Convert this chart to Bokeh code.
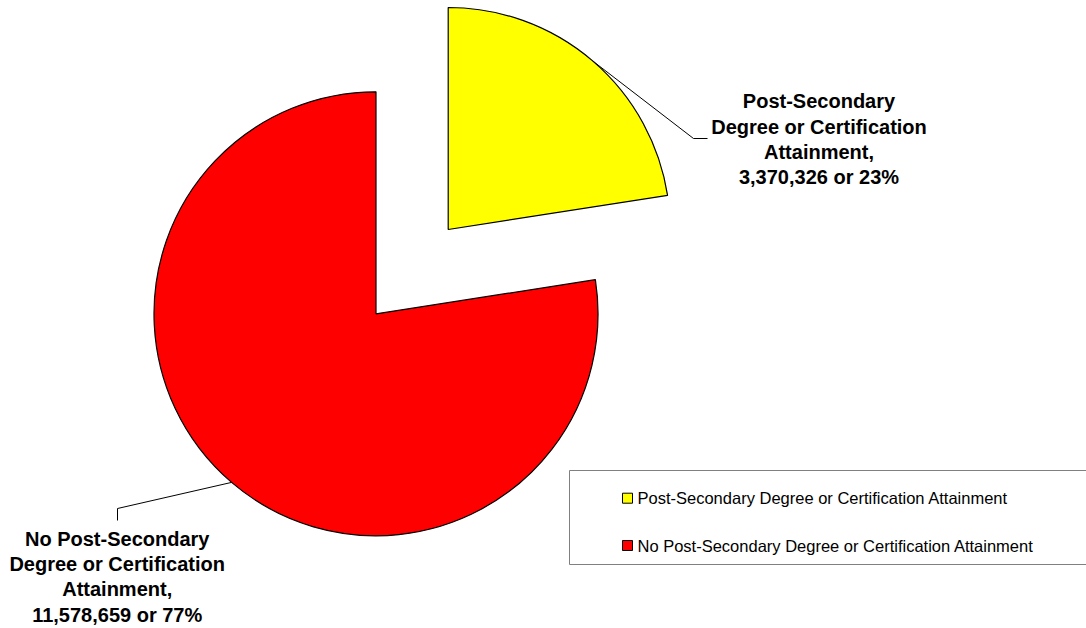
import math
from bokeh.plotting import figure
from bokeh.models import ColumnDataSource
from bokeh.core.properties import value
from bokeh.embed import file_html
from bokeh.resources import INLINE

# ---- data ----
categories = ["Post-Secondary Degree or Certification Attainment",
              "No Post-Secondary Degree or Certification Attainment"]
values = [3370326, 11578659]
colors = ["#FFFF00", "#FF0000"]
label_titles = [["Post-Secondary", "Degree or Certification", "Attainment,"],
                ["No Post-Secondary", "Degree or Certification", "Attainment,"]]

W, H = 1086, 628
p = figure(width=W, height=H, x_range=(0, W), y_range=(0, H),
           output_backend="svg", toolbar_location=None, min_border=0)
p.axis.visible = False
p.grid.visible = False
p.outline_line_color = None
p.background_fill_color = "white"

FONT = "Liberation Sans"
# pie geometry (layout)
cx, cy, R = 375.5, 314.7, 222
explode = 111

total = sum(values)
fracs = [v / total for v in values]
# slices go clockwise starting at 12 o'clock
starts, ends, mids = [], [], []
a = math.pi / 2
for f in fracs:
    sweep = f * 2 * math.pi
    end_cw = a - sweep
    starts.append(end_cw)
    ends.append(a)
    mids.append((a + end_cw) / 2)
    a = end_cw

xs, ys = [], []
for i in range(len(values)):
    off = explode if i == 0 else 0
    xs.append(cx + off * math.cos(mids[i]))
    ys.append(cy + off * math.sin(mids[i]))

src = ColumnDataSource(dict(x=xs, y=ys, s=starts, e=ends, c=colors))
p.wedge(x="x", y="y", radius=R, start_angle="s", end_angle="e",
        fill_color="c", line_color="black", line_width=1.2, source=src)

# leader lines
def arc_pt(i):
    return (xs[i] + R * math.cos(mids[i]), ys[i] + R * math.sin(mids[i]))

x0, y0 = arc_pt(0)
p.line([x0, 693, 707], [y0, 490, 490], line_color="black", line_width=1)
x1, y1 = arc_pt(1)
p.line([x1, 117, 117], [y1, 120, 108], line_color="black", line_width=1)

# labels
label_pos = [(818.5, 527.3), (116.7, 90.0)]
spacing = 25.4
for i in range(len(values)):
    lines = label_titles[i] + ["{:,} or {:.0f}%".format(values[i], fracs[i] * 100)]
    lx, ly = label_pos[i]
    p.text(x=[lx] * len(lines), y=[ly - k * spacing for k in range(len(lines))],
           text=lines, text_font=value(FONT), text_font_style="bold",
           text_font_size="20px", text_align="center", text_baseline="middle",
           text_color="black")

# legend (manual)
p.quad(left=[569], right=[1100], bottom=[64], top=[158],
       fill_color=None, line_color="#808080", line_width=1)
leg_y = [130.3, 83]
p.scatter(x=[627] * 2, y=leg_y, marker="square", size=10,
          fill_color=colors, line_color="black", line_width=1)
p.text(x=[637] * 2, y=leg_y, text=categories, text_font=value(FONT),
       text_font_size="16.5px", text_align="left", text_baseline="middle",
       text_color="black")

open("out.html", "w").write(file_html(p, INLINE))
